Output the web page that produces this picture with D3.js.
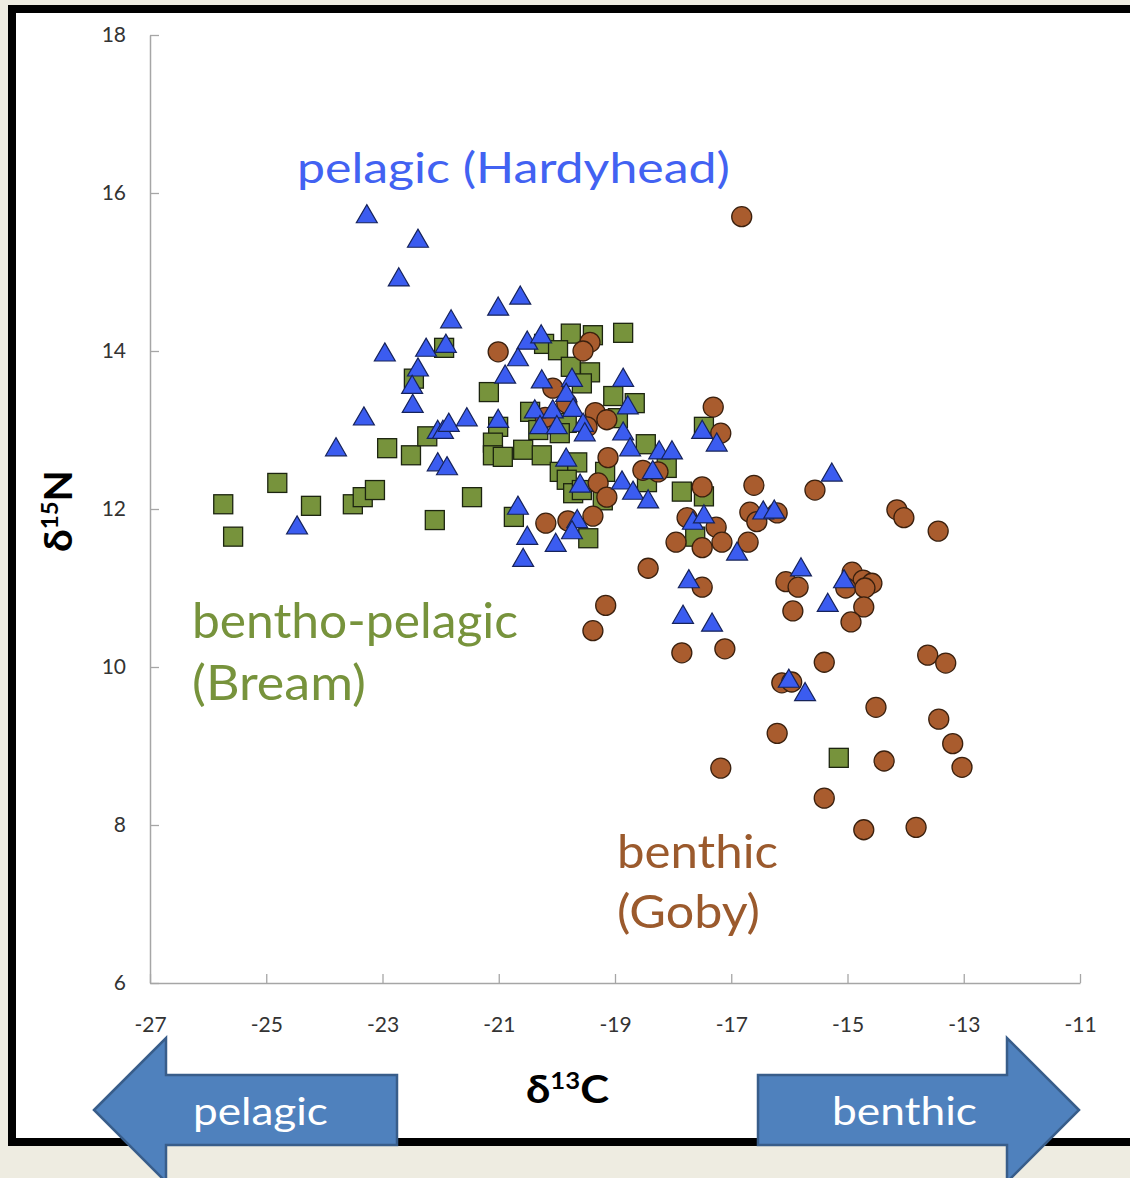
<!DOCTYPE html>
<html>
<head>
<meta charset="utf-8">
<script src="https://cdn.jsdelivr.net/npm/d3@7"></script>
<style>
  html, body { margin: 0; padding: 0; background: #eeece1; }
  svg { display: block; }
</style>
</head>
<body>
<svg id="chart" width="1130" height="1178"></svg>
<script>
// ---------- DATA ----------
const xTicks = [-27, -25, -23, -21, -19, -17, -15, -13, -11];
const xTickLabels = ["-27", "-25", "-23", "-21", "-19", "-17", "-15", "-13", "-11"];
const yTicks = [6, 8, 10, 12, 14, 16, 18];
const yTickLabels = ["6", "8", "10", "12", "14", "16", "18"];

// bentho-pelagic (Bream) – squares
const breamX = [-21.94,-22.46,-22.92,-22.51,-22.23,-24.81,-25.74,-25.57,-24.23,-23.51,
  -23.34,-23.13,-22.10,-21.46,-19.76,-19.38,-18.86,-20.22,-19.98,-19.76,
  -19.43,-19.57,-21.17,-19.03,-18.66,-20.46,-18.95,-19.83,-21.01,-20.32,
  -19.95,-21.10,-21.10,-20.93,-20.58,-20.26,-18.47,-19.95,-19.65,-19.83,
  -19.17,-19.72,-19.57,-19.21,-18.45,-18.11,-17.85,-20.74,-19.46,-17.47,
  -17.47,-17.62,-15.15];
const breamY = [14.04,13.65,12.77,12.68,12.92,12.33,12.06,11.65,12.04,12.06,
  12.15,12.24,11.86,12.15,14.22,14.20,14.23,14.09,14.01,13.80,
  13.73,13.59,13.48,13.43,13.34,13.23,13.15,13.09,13.04,13.00,
  12.96,12.84,12.68,12.66,12.75,12.68,12.82,12.47,12.59,12.37,
  12.47,12.20,12.24,12.11,12.34,12.52,12.22,11.90,11.63,13.04,
  12.16,11.65,8.85];

// benthic (Goby) – circles
const gobyX = [-16.82,-21.01,-19.43,-19.55,-20.07,-19.83,-19.34,-19.14,-20.20,-19.48,
  -19.12,-18.52,-18.26,-19.29,-19.14,-20.19,-19.81,-19.38,-17.76,-17.95,
  -18.43,-17.31,-17.18,-17.50,-16.61,-16.68,-16.56,-16.21,-17.26,-17.50,
  -17.16,-16.71,-15.56,-14.15,-14.03,-13.44,-17.50,-16.06,-15.85,-15.94,
  -14.92,-14.73,-14.58,-15.03,-14.70,-14.72,-14.94,-19.16,-19.38,-17.85,
  -17.11,-15.40,-13.62,-13.31,-16.13,-15.96,-14.51,-13.43,-13.19,-13.03,
  -16.21,-14.37,-17.18,-15.40,-14.72,-13.82];
const gobyY = [15.70,13.99,14.11,14.00,13.53,13.34,13.22,13.13,13.16,13.04,
  12.65,12.49,12.47,12.33,12.15,11.82,11.85,11.91,11.89,11.58,
  11.25,13.29,12.96,12.28,12.30,11.96,11.84,11.95,11.77,11.51,
  11.58,11.58,12.24,11.99,11.89,11.72,11.01,11.08,11.01,10.71,
  11.20,11.10,11.06,11.00,11.00,10.76,10.57,10.78,10.46,10.18,
  10.23,10.06,10.15,10.05,9.80,9.81,9.49,9.34,9.03,8.73,
  9.16,8.81,8.72,8.34,7.94,7.97];

// pelagic (Hardyhead) – triangles
const hardyX = [-23.27,-22.39,-22.72,-21.82,-21.01,-20.63,-22.96,-22.25,-21.91,-22.39,
  -22.49,-22.48,-23.32,-23.80,-22.05,-21.96,-21.86,-21.55,-22.05,-21.89,
  -24.47,-20.51,-20.27,-20.67,-20.89,-20.26,-19.74,-19.84,-21.01,-20.38,
  -20.07,-20.29,-20.00,-19.72,-19.55,-19.52,-18.86,-18.78,-18.86,-18.74,
  -18.24,-18.02,-18.35,-19.84,-19.60,-18.88,-18.69,-18.43,-20.67,-19.65,
  -19.74,-20.51,-20.02,-20.58,-17.50,-17.25,-16.45,-16.26,-17.66,-17.47,
  -16.90,-17.73,-17.83,-17.33,-15.27,-15.80,-15.06,-15.34,-16.01,-15.73];
const hardyY = [15.70,15.39,14.90,14.37,14.53,14.67,13.95,14.01,14.06,13.76,
  13.54,13.30,13.14,12.75,12.97,12.97,13.06,13.13,12.56,12.51,
  11.76,14.10,14.18,13.89,13.67,13.61,13.63,13.44,13.11,13.23,
  13.23,13.03,13.03,13.25,13.06,12.94,13.63,13.28,12.95,12.75,
  12.71,12.71,12.46,12.62,12.29,12.33,12.20,12.09,12.01,11.84,
  11.70,11.63,11.54,11.35,12.97,12.81,11.95,11.96,11.82,11.90,
  11.43,11.08,10.63,10.53,12.43,11.23,11.08,10.78,9.82,9.65];

// ---------- CHART ----------
const svg = d3.select("#chart");
const FONT = "Lato, 'Open Sans', sans-serif";

// slide frame
svg.append("rect").attr("x", 0).attr("y", 0).attr("width", 1130).attr("height", 1178).attr("fill", "#eeece1");
svg.append("rect").attr("x", 12).attr("y", 9).attr("width", 1140).attr("height", 1133)
  .attr("fill", "#ffffff").attr("stroke", "#000000").attr("stroke-width", 8);

const x = d3.scaleLinear().domain([-27, -11]).range([150, 1080]);
const y = d3.scaleLinear().domain([6, 18]).range([983, 35]);

// axes
const axisColor = "#a6a6a6";
const gx = svg.append("g").attr("transform", `translate(0,${y(6)})`)
  .call(d3.axisBottom(x).tickValues(xTicks).tickFormat((d, i) => xTickLabels[i])
    .tickSizeInner(-9).tickSizeOuter(0).tickPadding(34));
const gy = svg.append("g").attr("transform", `translate(${x(-27)},0)`)
  .call(d3.axisLeft(y).tickValues(yTicks).tickFormat((d, i) => yTickLabels[i])
    .tickSizeInner(-9).tickSizeOuter(0).tickPadding(24));
[gx, gy].forEach(g => {
  g.select(".domain").attr("stroke", axisColor).attr("stroke-width", 1.5);
  g.selectAll(".tick line").attr("stroke", axisColor).attr("stroke-width", 1.3);
  g.selectAll(".tick text").attr("fill", "#333333").style("font-family", FONT).style("font-size", "21px");
});

// markers: squares, then circles, then triangles
const sq = 19;
svg.append("g").selectAll("rect").data(d3.range(breamX.length)).join("rect")
  .attr("x", i => x(breamX[i]) - sq / 2).attr("y", i => y(breamY[i]) - sq / 2)
  .attr("width", sq).attr("height", sq)
  .attr("fill", "#77933c").attr("stroke", "#1c2410").attr("stroke-width", 1.3);

svg.append("g").selectAll("circle").data(d3.range(gobyX.length)).join("circle")
  .attr("cx", i => x(gobyX[i])).attr("cy", i => y(gobyY[i])).attr("r", 10)
  .attr("fill", "#a95c2e").attr("stroke", "#3a200e").attr("stroke-width", 1.3);

const tri = d3.symbol().type(d3.symbolTriangle).size(190);
svg.append("g").selectAll("path").data(d3.range(hardyX.length)).join("path")
  .attr("d", tri)
  .attr("transform", i => `translate(${x(hardyX[i])},${y(hardyY[i])})`)
  .attr("fill", "#3b5cf0").attr("stroke", "#16235a").attr("stroke-width", 1.2);

// ---------- helper to place text with fitted width ----------
function placeText(parts, opt) {
  const g = svg.append("g");
  const t = g.append("text").attr("x", 0).attr("y", 0)
    .style("font-family", FONT).style("font-size", opt.size + "px")
    .style("font-weight", opt.weight || "normal").attr("fill", opt.fill);
  parts.forEach(p => {
    const ts = t.append("tspan").text(p.text);
    if (p.size) ts.style("font-size", p.size + "px");
    if (p.dy) ts.attr("dy", p.dy);
  });
  const w = t.node().getComputedTextLength();
  const sx = opt.width ? opt.width / w : 1;
  const rot = opt.rotate ? ` rotate(${opt.rotate})` : "";
  g.attr("transform", `translate(${opt.x},${opt.y})${rot} scale(${sx},1)`);
  return g;
}

// group labels
placeText([{ text: "pelagic (Hardyhead)" }], { x: 297, y: 183, size: 42, width: 433, fill: "#4262f2" });
placeText([{ text: "bentho-pelagic" }], { x: 192, y: 638, size: 48, width: 326, fill: "#77933c" });
placeText([{ text: "(Bream)" }], { x: 192, y: 700, size: 48, width: 174, fill: "#77933c" });
placeText([{ text: "benthic" }], { x: 617, y: 868, size: 47, width: 161, fill: "#9b5a2d" });
placeText([{ text: "(Goby)" }], { x: 617, y: 928, size: 47, width: 143, fill: "#9b5a2d" });

// axis titles
placeText([{ text: "δ" }, { text: "13", size: 23, dy: -14 }, { text: "C", dy: 14 }],
  { x: 526, y: 1103, size: 39, weight: "bold", width: 83, fill: "#000000" });
placeText([{ text: "δ" }, { text: "15", size: 23, dy: -14 }, { text: "N", dy: 14 }],
  { x: 72, y: 552, size: 39, weight: "bold", width: 82, fill: "#000000", rotate: -90 });

// arrows
const arrowFill = "#4f81bd", arrowStroke = "#385d8a";
const left = d3.path();
left.moveTo(94, 1110); left.lineTo(166, 1038); left.lineTo(166, 1075); left.lineTo(397, 1075);
left.lineTo(397, 1145); left.lineTo(166, 1145); left.lineTo(166, 1182); left.closePath();
svg.append("path").attr("d", left.toString()).attr("fill", arrowFill).attr("stroke", arrowStroke).attr("stroke-width", 2.5);
const right = d3.path();
right.moveTo(1079, 1110); right.lineTo(1007, 1038); right.lineTo(1007, 1075); right.lineTo(758, 1075);
right.lineTo(758, 1145); right.lineTo(1007, 1145); right.lineTo(1007, 1182); right.closePath();
svg.append("path").attr("d", right.toString()).attr("fill", arrowFill).attr("stroke", arrowStroke).attr("stroke-width", 2.5);

placeText([{ text: "pelagic" }], { x: 193, y: 1125, size: 38, width: 135, fill: "#ffffff" });
placeText([{ text: "benthic" }], { x: 832, y: 1125, size: 38, width: 145, fill: "#ffffff" });
</script>
</body>
</html>
